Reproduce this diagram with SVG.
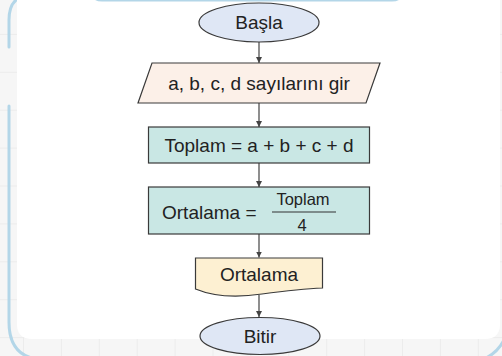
<svg xmlns="http://www.w3.org/2000/svg" width="502" height="356" viewBox="0 0 502 356">
  <defs>
    <pattern id="grid" x="23" y="-4" width="37.9" height="37.9" patternUnits="userSpaceOnUse">
      <rect width="37.9" height="37.9" fill="#f6f6f6"/>
      <path d="M0 0 V37.9 M0 0 H37.9" fill="none" stroke="#e2e2e2" stroke-width="1"/>
    </pattern>
    <marker id="arrow" viewBox="0 0 10 10" refX="10" refY="5" markerWidth="6" markerHeight="6" orient="auto" markerUnits="userSpaceOnUse">
      <path d="M0 0 L10 5 L0 10 Z" fill="#444"/>
    </marker>
  </defs>
  <style>
    .frame { fill: none; stroke: #b3d6e8; stroke-width: 3; stroke-linecap: round; }
    .shape { stroke: #3a3a3a; stroke-width: 1.2; }
    .term { fill: #dfe7f5; }
    .io { fill: #fcf0e8; }
    .proc { fill: #c9e7e4; }
    .doc { fill: #fdf0d2; }
    .label { font-family: "Liberation Sans", Arial, sans-serif; font-size: 19px; fill: #222; text-anchor: middle; }
    .small { font-size: 16.5px; }
    .left { text-anchor: start; }
    .edge { stroke: #444; stroke-width: 1.2; fill: none; marker-end: url(#arrow); }
  </style>

  <!-- page background -->
  <rect width="502" height="356" fill="url(#grid)"/>

  <!-- outer rounded frame -->
  <path class="frame" d="M9 47 V20 Q9 6 16 0"/>
  <path class="frame" d="M9 106 V322 Q9 352 32 358"/>
  <path class="frame" d="M486 358 Q498 352 504 340"/>

  <!-- white panel -->
  <path d="M17 -20 H500 V324 Q500 339 485 339 H32 Q17 339 17 324 Z" fill="#ffffff"/>

  <!-- header tab edge -->
  <path class="frame" d="M92 -6 Q94 0 102 0 H392 Q400 0 402 -6"/>

  <!-- connectors -->
  <g id="connectors">
    <line class="edge" x1="259" y1="42" x2="259" y2="63"/>
    <line class="edge" x1="259" y1="103" x2="259" y2="127"/>
    <line class="edge" x1="259" y1="163" x2="259" y2="187"/>
    <line class="edge" x1="259" y1="234" x2="259" y2="257.5"/>
    <line class="edge" x1="259" y1="295" x2="259" y2="317"/>
  </g>

  <g id="start">
    <ellipse class="shape term" cx="259" cy="22.5" rx="60" ry="19.5"/>
    <text class="label" x="259" y="29">Başla</text>
  </g>

  <g id="input">
    <polygon class="shape io" points="152,63 380,63 366,103 138,103"/>
    <text class="label" x="259" y="90">a, b, c, d sayılarını gir</text>
  </g>

  <g id="sum">
    <rect class="shape proc" x="148.5" y="127" width="221" height="36"/>
    <text class="label" x="259" y="152">Toplam = a + b + c + d</text>
  </g>

  <g id="average">
    <rect class="shape proc" x="148.5" y="187" width="221" height="47"/>
    <text class="label left" x="162" y="219">Ortalama =</text>
    <line x1="272" y1="212" x2="336" y2="212" stroke="#333" stroke-width="1.2"/>
    <text class="label small" x="303" y="205">Toplam</text>
    <text class="label small" x="302" y="231">4</text>
  </g>

  <g id="output">
    <path class="shape doc" d="M195.5 258 H322.5 V288 Q300 289 262 294 Q222 300 195.5 289 Z"/>
    <text class="label" x="259" y="281">Ortalama</text>
  </g>

  <g id="end">
    <ellipse class="shape term" cx="260" cy="336" rx="60" ry="18.5"/>
    <text class="label" x="260" y="342.5">Bitir</text>
  </g>
</svg>
